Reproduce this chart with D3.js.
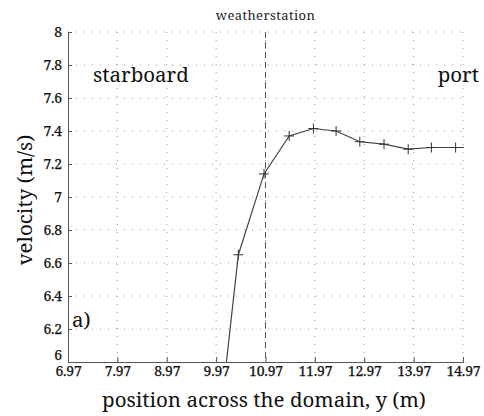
<!DOCTYPE html>
<html><head><meta charset="utf-8">
<script src="https://cdn.jsdelivr.net/npm/d3@7"></script>
<style>body{margin:0;background:#fff}svg{display:block}</style>
</head><body>
<svg id="c" width="484" height="416"></svg>
<script>
const positions = [9.93, 10.42, 10.94, 11.45, 11.94, 12.40, 12.88, 13.37, 13.86, 14.33, 14.82, 15.30];
const velocity  = [5.33, 6.65, 7.14, 7.37, 7.415, 7.40, 7.335, 7.32, 7.29, 7.30, 7.30, 7.30];
const xTicks = [6.97, 7.97, 8.97, 9.97, 10.97, 11.97, 12.97, 13.97, 14.97];
const yTicks = [6, 6.2, 6.4, 6.6, 6.8, 7, 7.2, 7.4, 7.6, 7.8, 8];
const stationPos = 10.97;

const svg = d3.select("#c");
const font = "'Noto Serif', 'Liberation Serif', serif";
const m = {l:68, r:463, t:32, b:362};
const x = d3.scaleLinear().domain([6.97, 14.97]).range([m.l, m.r]);
const y = d3.scaleLinear().domain([6, 8]).range([m.b, m.t]);

svg.append("defs").append("clipPath").attr("id","clip")
  .append("rect").attr("x", m.l).attr("y", m.t).attr("width", m.r-m.l+1).attr("height", m.b-m.t);

// grid
const g = svg.append("g");
g.selectAll(".hg").data(yTicks.slice(1)).join("line")
  .attr("x1", m.l).attr("x2", m.r).attr("y1", d=>y(d)).attr("y2", d=>y(d))
  .attr("stroke","#999").attr("stroke-width",1).attr("stroke-dasharray","1,7");
g.selectAll(".vg").data(xTicks.slice(1)).join("line")
  .attr("x1", d=>x(d)).attr("x2", d=>x(d)).attr("y1", m.t).attr("y2", m.b)
  .attr("stroke","#999").attr("stroke-width",1).attr("stroke-dasharray","1,7");

// axes
const ax = svg.append("g").attr("transform",`translate(0,${m.b})`)
  .call(d3.axisBottom(x).tickValues(xTicks).tickFormat(d=>d.toFixed(2)).tickSize(-5).tickPadding(4));
const ay = svg.append("g").attr("transform",`translate(${m.l},0)`)
  .call(d3.axisLeft(y).tickValues(yTicks).tickFormat(d=>d3.format("~g")(d)).tickSize(-4).tickPadding(6));
[ax, ay].forEach(a => {
  a.select(".domain").attr("stroke","#555");
  a.selectAll(".tick line").attr("stroke","#555");
  a.selectAll("text").attr("font-family", font).attr("font-size", 14).attr("fill","#111")
    .attr("stroke","#111").attr("stroke-width",0.25).attr("letter-spacing","-0.2px");
});
ay.selectAll(".tick text").attr("dy","0.32em");
ay.selectAll(".tick").filter(d=>d===6).select("text").attr("dy","-0.2em");

// station line
svg.append("line").attr("x1", x(stationPos)).attr("x2", x(stationPos))
  .attr("y1", m.t).attr("y2", m.b).attr("stroke","#555").attr("stroke-width",1)
  .attr("stroke-dasharray","6,4");
svg.append("text").attr("x", x(stationPos)).attr("y", 20).attr("text-anchor","middle")
  .attr("font-family", font).attr("font-size", 13).attr("fill","#222")
  .attr("letter-spacing","0.4px").text("weatherstation");

// data
const data = positions.map((p,i)=>({p, v:velocity[i]}));
const pg = svg.append("g").attr("clip-path","url(#clip)");
pg.append("path").datum(data)
  .attr("d", d3.line().x(d=>x(d.p)).y(d=>y(d.v)))
  .attr("fill","none").attr("stroke","#444").attr("stroke-width",1.2);
const s = 5;
pg.selectAll(".mk").data(data).join("path")
  .attr("d", d=>`M${x(d.p)-s},${y(d.v)}H${x(d.p)+s}M${x(d.p)},${y(d.v)-s}V${y(d.v)+s}`)
  .attr("stroke","#333").attr("stroke-width",1);

// annotations
const big = (sel) => sel.attr("font-family", font).attr("font-size", 20.5).attr("fill","#111");
big(svg.append("text").attr("x", 93).attr("y", 82)).text("starboard");
big(svg.append("text").attr("x", 479).attr("y", 82).attr("text-anchor","end")).text("port");
big(svg.append("text").attr("x", 72).attr("y", 327)).text("a)");

// axis titles
big(svg.append("text").attr("x", 264).attr("y", 407).attr("text-anchor","middle"))
  .text("position across the domain, y (m)");
big(svg.append("text").attr("transform", `translate(32,200) rotate(-90)`).attr("text-anchor","middle"))
  .text("velocity (m/s)");
</script>
</body></html>
